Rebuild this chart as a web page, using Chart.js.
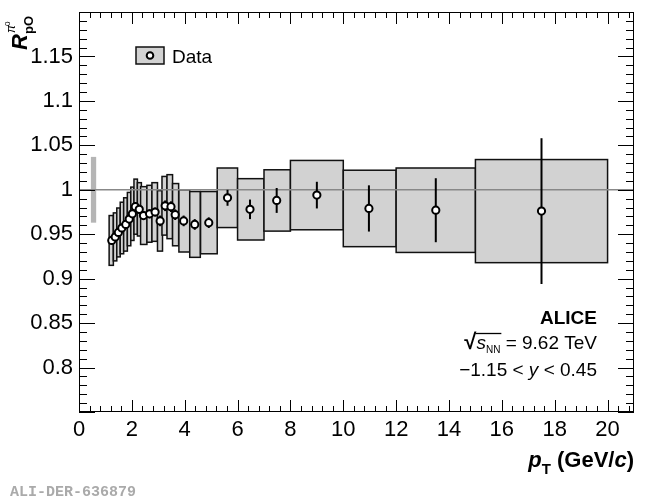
<!DOCTYPE html>
<html><head><meta charset="utf-8">
<script src="https://cdn.jsdelivr.net/npm/chart.js@4.4.1/dist/chart.umd.min.js"></script>
<style>html,body{margin:0;padding:0;background:#fff;}#c{display:block;}</style>
</head><body>
<canvas id="c" width="650" height="500" style="width:650px;height:500px"></canvas>
<script>
// ---- data ----
const pt      = [1.24,1.37,1.49,1.62,1.77,1.90,2.02,2.13,2.28,2.44,2.67,2.88,3.07,3.26,3.48,3.64,3.96,4.38,4.91,5.62,6.47,7.48,9.0,10.97,13.5,17.5];
const ratio   = [0.943,0.947,0.952,0.957,0.961,0.967,0.973,0.981,0.978,0.971,0.973,0.975,0.965,0.982,0.981,0.972,0.965,0.961,0.963,0.991,0.978,0.988,0.994,0.979,0.977,0.976];
const statErr = [0.005,0.005,0.005,0.005,0.005,0.005,0.005,0.005,0.005,0.005,0.005,0.005,0.006,0.006,0.006,0.006,0.006,0.006,0.006,0.009,0.011,0.014,0.015,0.026,0.036,0.082];
const sysErr  = [0.028,0.027,0.0275,0.029,0.030,0.030,0.030,0.031,0.030,0.0325,0.032,0.033,0.034,0.033,0.036,0.035,0.035,0.037,0.035,0.0335,0.0345,0.0345,0.039,0.043,0.0475,0.058];
const boxLo   = [1.14,1.30,1.43,1.56,1.69,1.83,1.96,2.08,2.21,2.33,2.57,2.76,2.97,3.14,3.33,3.54,3.78,4.19,4.60,5.23,6,7,8,10,12,15];
const boxHi   = [1.30,1.43,1.56,1.69,1.83,1.96,2.08,2.21,2.36,2.57,2.76,2.97,3.16,3.33,3.54,3.77,4.19,4.59,5.23,6.00,7,8,10,12,15,20];
const normBandX = [0.45, 0.65];
const normUnc   = 0.037;
const xTickVals   = [0,2,4,6,8,10,12,14,16,18,20];
const xTickLabels = ['0','2','4','6','8','10','12','14','16','18','20'];
const yTickVals   = [0.8,0.85,0.9,0.95,1.0,1.05,1.1,1.15];
const yTickLabels = ['0.8','0.85','0.9','0.95','1','1.05','1.1','1.15'];
const xRange = [0, 21];
const yRange = [0.75, 1.2];
const seriesName = 'Data';

const FONT = '"Liberation Sans", Arial, Helvetica, sans-serif';

function drawRuns(ctx, runs, x, y, align) {
  let total = 0;
  const w = runs.map(r => { ctx.font = r.font; const m = ctx.measureText(r.t).width; total += m; return m; });
  let cx = align === 'right' ? x - total : x;
  const starts = [];
  runs.forEach((r, i) => {
    ctx.font = r.font;
    starts.push(cx);
    ctx.fillText(r.t, cx, y + (r.dy || 0));
    cx += w[i];
  });
  return {starts, widths: w};
}

const rootStyle = {
  id: 'rootStyle',
  beforeDatasetsDraw(chart) {
    const {ctx, chartArea: a, scales: {x, y}} = chart;
    ctx.save();
    ctx.beginPath(); ctx.rect(a.left, a.top, a.right - a.left, a.bottom - a.top); ctx.clip();
    // normalisation band
    ctx.fillStyle = '#b5b5b5';
    const nx0 = x.getPixelForValue(normBandX[0]), nx1 = x.getPixelForValue(normBandX[1]);
    const ny0 = y.getPixelForValue(1 + normUnc), ny1 = y.getPixelForValue(1 - normUnc);
    ctx.fillRect(nx0, ny0, nx1 - nx0, ny1 - ny0);
    // systematic boxes
    for (let i = 0; i < pt.length; i++) {
      const x0 = x.getPixelForValue(boxLo[i]), x1 = x.getPixelForValue(boxHi[i]);
      const y0 = y.getPixelForValue(ratio[i] + sysErr[i]), y1 = y.getPixelForValue(ratio[i] - sysErr[i]);
      ctx.fillStyle = '#d2d2d2';
      ctx.fillRect(x0, y0, x1 - x0, y1 - y0);
      ctx.strokeStyle = '#111'; ctx.lineWidth = 1.5;
      ctx.strokeRect(x0, y0, x1 - x0, y1 - y0);
    }
    // unity line
    ctx.strokeStyle = '#888'; ctx.lineWidth = 1.5;
    ctx.beginPath(); ctx.moveTo(a.left, y.getPixelForValue(1)); ctx.lineTo(a.right, y.getPixelForValue(1)); ctx.stroke();
    // statistical error bars
    ctx.strokeStyle = '#000'; ctx.lineWidth = 2;
    for (let i = 0; i < pt.length; i++) {
      const px = x.getPixelForValue(pt[i]);
      ctx.beginPath();
      ctx.moveTo(px, y.getPixelForValue(ratio[i] + statErr[i]));
      ctx.lineTo(px, y.getPixelForValue(ratio[i] - statErr[i]));
      ctx.stroke();
    }
    ctx.restore();
  },
  afterDraw(chart) {
    const {ctx, chartArea: a, scales: {x, y}} = chart;
    ctx.save();
    // frame
    ctx.strokeStyle = '#000'; ctx.lineWidth = 1;
    ctx.strokeRect(a.left + 0.5, a.top + 0.5, a.right - a.left - 1, a.bottom - a.top - 1);
    // inward ticks (x: major every 2, minor every 0.4; y: major 0.05, minor 0.01)
    ctx.beginPath();
    for (let k = 0; k <= 52; k++) {
      const v = k * 0.4; if (v > xRange[1]) break;
      const px = Math.round(x.getPixelForValue(v)) + 0.5;
      const L = (k % 5 === 0) ? 12 : 6;
      ctx.moveTo(px, a.bottom); ctx.lineTo(px, a.bottom - L);
      ctx.moveTo(px, a.top); ctx.lineTo(px, a.top + L);
    }
    for (let k = 75; k <= 120; k++) {
      const v = k / 100;
      const py = Math.round(y.getPixelForValue(v)) + 0.5;
      const L = (k % 5 === 0) ? 16 : 8;
      ctx.moveTo(a.left, py); ctx.lineTo(a.left + L, py);
      ctx.moveTo(a.right, py); ctx.lineTo(a.right - L, py);
    }
    ctx.stroke();

    ctx.fillStyle = '#000';
    ctx.textBaseline = 'alphabetic';
    ctx.textAlign = 'left';
    // x title
    drawRuns(ctx, [
      {t:'p', font:'bold italic 22px ' + FONT},
      {t:'T', font:'bold 15px ' + FONT, dy:7},
      {t:' (GeV/', font:'bold 22px ' + FONT},
      {t:'c', font:'bold italic 22px ' + FONT},
      {t:')', font:'bold 22px ' + FONT}
    ], a.right, 467, 'right');
    // y title (rotated)
    ctx.save();
    ctx.translate(27, 50);
    ctx.rotate(-Math.PI / 2);
    ctx.font = 'bold italic 22px ' + FONT;
    ctx.fillText('R', 0, 0);
    ctx.font = 'bold 13px ' + FONT;
    ctx.fillText('pO', 16, 6);
    ctx.font = 'italic 12px ' + FONT;
    ctx.fillText('\u03C0', 17, -12);
    ctx.font = '8px ' + FONT;
    ctx.fillText('0', 24, -17);
    ctx.restore();

    // legend
    const lx0 = 136, ly0 = 47, lx1 = 164, ly1 = 64;
    ctx.fillStyle = '#d2d2d2'; ctx.fillRect(lx0, ly0, lx1 - lx0, ly1 - ly0);
    ctx.strokeStyle = '#111'; ctx.lineWidth = 1.5; ctx.strokeRect(lx0, ly0, lx1 - lx0, ly1 - ly0);
    ctx.beginPath(); ctx.arc((lx0 + lx1) / 2, (ly0 + ly1) / 2, 3.3, 0, 2 * Math.PI);
    ctx.fillStyle = '#fff'; ctx.fill(); ctx.lineWidth = 2; ctx.strokeStyle = '#000'; ctx.stroke();
    ctx.fillStyle = '#000';
    ctx.font = '19px ' + FONT;
    ctx.fillText(seriesName, 172, 63);

    // ALICE block
    drawRuns(ctx, [{t:'ALICE', font:'bold 19px ' + FONT}], 597, 324, 'right');
    const r = drawRuns(ctx, [
      {t:'\u221A', font:'bold 22px ' + FONT},
      {t:'s', font:'italic 19px ' + FONT},
      {t:'NN', font:'10px ' + FONT, dy:4},
      {t:' = 9.62 TeV', font:'19px ' + FONT}
    ], 597, 349, 'right');
    ctx.lineWidth = 1.3; ctx.strokeStyle = '#000';
    ctx.beginPath();
    ctx.moveTo(r.starts[1] - 1, 333.5);
    ctx.lineTo(r.starts[2] + r.widths[2] + 1, 333.5);
    ctx.stroke();
    drawRuns(ctx, [
      {t:'\u22121.15 < ', font:'19px ' + FONT},
      {t:'y', font:'italic 19px ' + FONT},
      {t:' < 0.45', font:'19px ' + FONT}
    ], 597, 376, 'right');

    // watermark
    ctx.fillStyle = '#aaaaaa';
    ctx.font = 'bold 15px "Liberation Mono", "DejaVu Sans Mono", monospace';
    ctx.fillText('ALI-DER-636879', 10, 496);
    ctx.restore();
  }
};

new Chart(document.getElementById('c'), {
  type: 'scatter',
  data: {
    datasets: [{
      label: seriesName,
      data: pt.map((v, i) => ({x: v, y: ratio[i]})),
      pointStyle: 'circle',
      pointRadius: 3.6,
      pointBorderWidth: 2,
      pointBorderColor: '#000',
      pointBackgroundColor: '#fff',
      showLine: false
    }]
  },
  options: {
    responsive: false,
    animation: false,
    devicePixelRatio: 1,
    layout: {padding: {top: 12, right: 16, left: 0, bottom: 0}},
    plugins: {legend: {display: false}, tooltip: {enabled: false}},
    scales: {
      x: {
        type: 'linear', min: xRange[0], max: xRange[1],
        grid: {display: false, drawTicks: false},
        border: {display: false},
        afterBuildTicks: s => { s.ticks = xTickVals.map(v => ({value: v})); },
        afterFit: s => { s.height = 88; s.paddingLeft = 0; s.paddingRight = 0; },
        ticks: {
          padding: 5,
          color: '#000',
          font: {family: FONT, size: 22},
          maxRotation: 0,
          autoSkip: false,
          callback: v => { const i = xTickVals.indexOf(v); return i >= 0 ? xTickLabels[i] : ''; }
        }
      },
      y: {
        type: 'linear', min: yRange[0], max: yRange[1],
        grid: {display: false, drawTicks: false},
        border: {display: false},
        afterBuildTicks: s => { s.ticks = yTickVals.map(v => ({value: v})); },
        afterFit: s => { s.width = 79; s.paddingTop = 0; s.paddingBottom = 0; },
        ticks: {
          padding: 6,
          color: '#000',
          font: {family: FONT, size: 22},
          autoSkip: false,
          callback: v => { const i = yTickVals.findIndex(t => Math.abs(t - v) < 1e-9); return i >= 0 ? yTickLabels[i] : ''; }
        }
      }
    }
  },
  plugins: [rootStyle]
});
</script>
</body></html>
